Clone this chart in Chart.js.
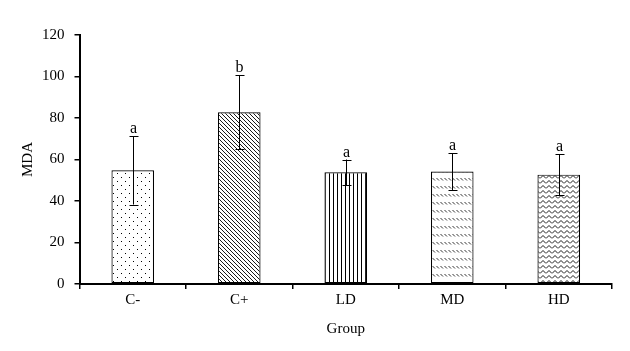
<!DOCTYPE html>
<html>
<head>
<meta charset="utf-8">
<script src="https://cdn.jsdelivr.net/npm/chart.js@4"></script>
<style>
  body { margin: 0; background: #fff; }
  #wrap { width: 630px; height: 351px; }
</style>
</head>
<body>
<div id="wrap"><canvas id="mda-chart" width="630" height="351"></canvas></div>
<script>
// datos
const groups = ['C-', 'C+', 'LD', 'MD', 'HD'];
const mdaMean = [54.8, 82.8, 53.8, 54.2, 52.7];
const mdaSd = [16.5, 17.8, 6.2, 8.9, 9.9];
const letters = ['a', 'b', 'a', 'a', 'a'];
const yTicks = [0, 20, 40, 60, 80, 100, 120];

const FONT = 'Liberation Serif, Times New Roman, serif';

// patrones de relleno
function makePattern(w, h, draw) {
  const c = document.createElement('canvas');
  c.width = w; c.height = h;
  const g = c.getContext('2d');
  g.fillStyle = '#fff';
  g.fillRect(0, 0, w, h);
  g.strokeStyle = '#000';
  g.fillStyle = '#000';
  g.lineWidth = 1;
  draw(g);
  return document.getElementById('mda-chart').getContext('2d').createPattern(c, 'repeat');
}

const patDots = makePattern(8, 8, g => {
  g.fillRect(1, 1, 1, 1);
  g.fillRect(5, 5, 1, 1);
});
const patDiag = makePattern(4, 4, g => {
  g.lineWidth = 0.9;
  g.beginPath();
  g.moveTo(-1, -1); g.lineTo(5, 5);
  g.moveTo(-1, 3); g.lineTo(1, 5);
  g.moveTo(3, -1); g.lineTo(5, 1);
  g.stroke();
});
const patVert = makePattern(4, 4, g => {
  g.fillRect(1, 0, 1, 4);
});
const patDash = makePattern(4, 8, g => {
  g.lineWidth = 0.8;
  g.beginPath();
  g.moveTo(0.5, 2); g.lineTo(3, 4.5);
  g.stroke();
});
const patWave = makePattern(6, 5, g => {
  g.lineWidth = 0.9;
  g.beginPath();
  g.moveTo(0, 3.5); g.lineTo(3, 0.5); g.lineTo(6, 3.5);
  g.stroke();
});
const fills = [patDots, patDiag, patVert, patDash, patWave];

// barras de error y letras
const errorBars = {
  id: 'errorBars',
  afterDatasetsDraw(chart) {
    const ctx = chart.ctx;
    const y = chart.scales.y;
    const meta = chart.getDatasetMeta(0);
    ctx.save();
    ctx.strokeStyle = '#000';
    ctx.lineWidth = 1;
    meta.data.forEach((bar, i) => {
      const x = Math.round(bar.x) + 0.5;
      const top = y.getPixelForValue(mdaMean[i] + mdaSd[i]);
      const bot = y.getPixelForValue(mdaMean[i] - mdaSd[i]);
      ctx.beginPath();
      ctx.moveTo(x, top); ctx.lineTo(x, bot);
      ctx.moveTo(x - 4, Math.round(top) + 0.5); ctx.lineTo(x + 5, Math.round(top) + 0.5);
      ctx.moveTo(x - 4, Math.round(bot) + 0.5); ctx.lineTo(x + 5, Math.round(bot) + 0.5);
      ctx.stroke();
      ctx.fillStyle = '#000';
      ctx.font = '16px ' + FONT;
      ctx.textAlign = 'center';
      ctx.textBaseline = 'alphabetic';
      ctx.fillText(letters[i], x, top - 3);
    });
    ctx.restore();
  }
};

new Chart(document.getElementById('mda-chart'), {
  type: 'bar',
  data: {
    labels: groups,
    datasets: [{
      data: mdaMean,
      backgroundColor: fills,
      borderColor: '#000',
      borderWidth: 1.2,
      borderSkipped: false,
      barPercentage: 0.4,
      categoryPercentage: 1
    }]
  },
  options: {
    responsive: false,
    animation: false,
    layout: { padding: { left: 0, right: 18, top: 35, bottom: 0 } },
    plugins: { legend: { display: false }, tooltip: { enabled: false } },
    scales: {
      x: {
        offset: true,
        grid: { display: true, offset: true, drawOnChartArea: false, drawTicks: true, tickLength: 5, color: '#000', lineWidth: 1.5 },
        border: { display: true, color: '#000', width: 2 },
        ticks: { color: '#000', font: { family: FONT, size: 15 }, padding: 2 },
        title: { display: true, text: 'Group', color: '#000', font: { family: FONT, size: 15 }, padding: { top: 4, bottom: 13 } },
        afterFit: s => { s.height = 67; }
      },
      y: {
        min: 0,
        max: 120,
        afterBuildTicks: s => { s.ticks = yTicks.map(v => ({ value: v })); },
        grid: { display: true, drawOnChartArea: false, drawTicks: true, tickLength: 5, color: '#000', lineWidth: 1.5 },
        border: { display: true, color: '#000', width: 2 },
        ticks: { color: '#000', font: { family: FONT, size: 15 }, padding: 10 },
        title: { display: true, text: 'MDA', color: '#000', font: { family: FONT, size: 15 }, padding: { top: 19, bottom: 0 } },
        afterFit: s => { s.width = 79.5; }
      }
    }
  },
  plugins: [errorBars]
});
</script>
</body>
</html>
